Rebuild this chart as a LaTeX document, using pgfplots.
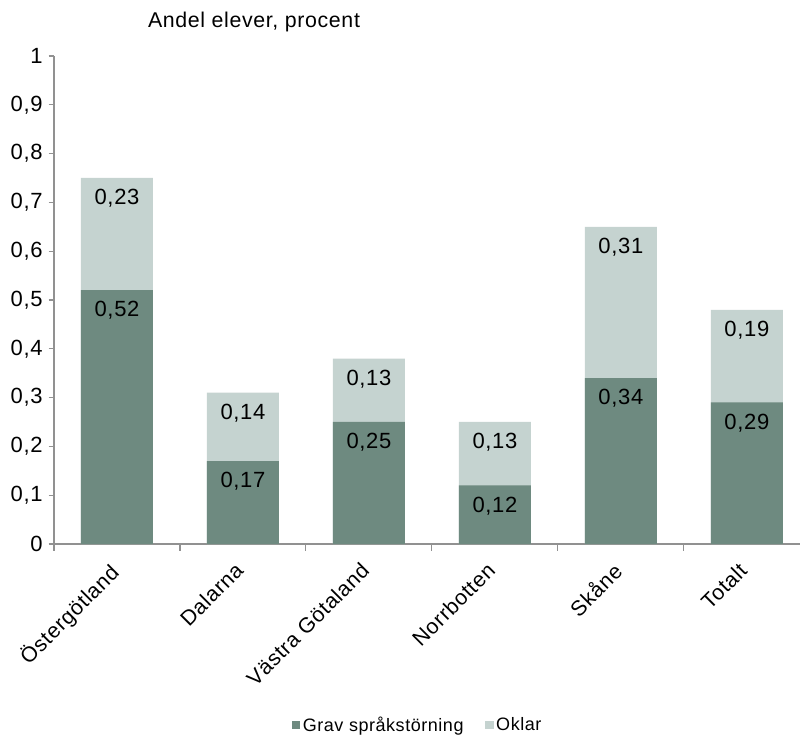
\documentclass[border=0pt]{standalone}
\usepackage{pgfplots}
\usepackage{pgfplotstable}
\pgfplotsset{compat=1.18}
\usepackage{fontspec}
\setmainfont{Liberation Sans}[LetterSpace=3]
\definecolor{darkc}{RGB}{110,138,128}
\definecolor{lightc}{RGB}{197,211,208}
\definecolor{axc}{RGB}{145,145,145}
\pgfplotstableread{
x a al b bl
0 0.52 {0,52} 0.23 {0,23}
1 0.17 {0,17} 0.14 {0,14}
2 0.25 {0,25} 0.13 {0,13}
3 0.12 {0,12} 0.13 {0,13}
4 0.34 {0,34} 0.31 {0,31}
5 0.29 {0,29} 0.19 {0,19}
}\data
\newcommand{\lf}{\fontsize{16.5}{19}\selectfont}
\begin{document}
\begin{tikzpicture}
\useasboundingbox (0,0) rectangle (600pt,552pt);
\begin{axis}[
  at={(40.5pt,144pt)}, anchor=south west,
  scale only axis, width=560.25pt, height=366pt,
  ybar, bar width=54pt, bar shift=0pt,
  xmin=-0.5, xmax=5.43, ymin=0, ymax=1,
  axis x line*=bottom, axis y line*=left,
  axis line style={axc, line width=0.8pt},
  xtick={0,...,5},
  xticklabels={Östergötland,Dalarna,Västra Götaland,Norrbotten,Skåne,Totalt},
  major x tick style={draw=none},
  minor xtick={-0.5,0.5,1.5,2.5,3.5,4.5},
  minor x tick style={axc, line width=0.8pt},
  minor tick length=5pt,
  ytick={0,0.1,...,1.0},
  yticklabels={0,{0,1},{0,2},{0,3},{0,4},{0,5},{0,6},{0,7},{0,8},{0,9},1},
  y tick style={axc, line width=0.8pt},
  major tick length=4pt,
  tick align=outside,
  /pgf/number format/assume math mode=true,
  tick label style={font=\lf},
  yticklabel style={xshift=-1pt},
  xticklabel style={font=\fontsize{16}{19}\selectfont, xshift=-7pt, yshift=-4pt, rotate=45, anchor=north east},
  nodes near coords,
  point meta=explicit symbolic,
  every node near coord/.append style={font=\lf, anchor=north, yshift=-5pt, black},
  reverse legend,
  legend style={at={(0.487,-0.371)}, anchor=center, draw=none, legend columns=2,
    font=\fontsize{13.5}{16}\selectfont,
    /tikz/every even column/.append style={column sep=14pt}},
  legend image code/.code={\fill[#1] (0pt,-3.25pt) rectangle (6.5pt,3.25pt);},
]
\addplot[fill=lightc, draw=none] table[x=x, y expr=\thisrow{a}+\thisrow{b}, meta=bl]{\data};
\addplot[fill=darkc, draw=none] table[x=x, y=a, meta=al]{\data};
\legend{Oklar, Grav språkstörning}
\end{axis}
\node[font=\fontsize{16}{19}\selectfont] at (190.5pt,535.5pt) {Andel elever, procent};
\end{tikzpicture}
\end{document}
